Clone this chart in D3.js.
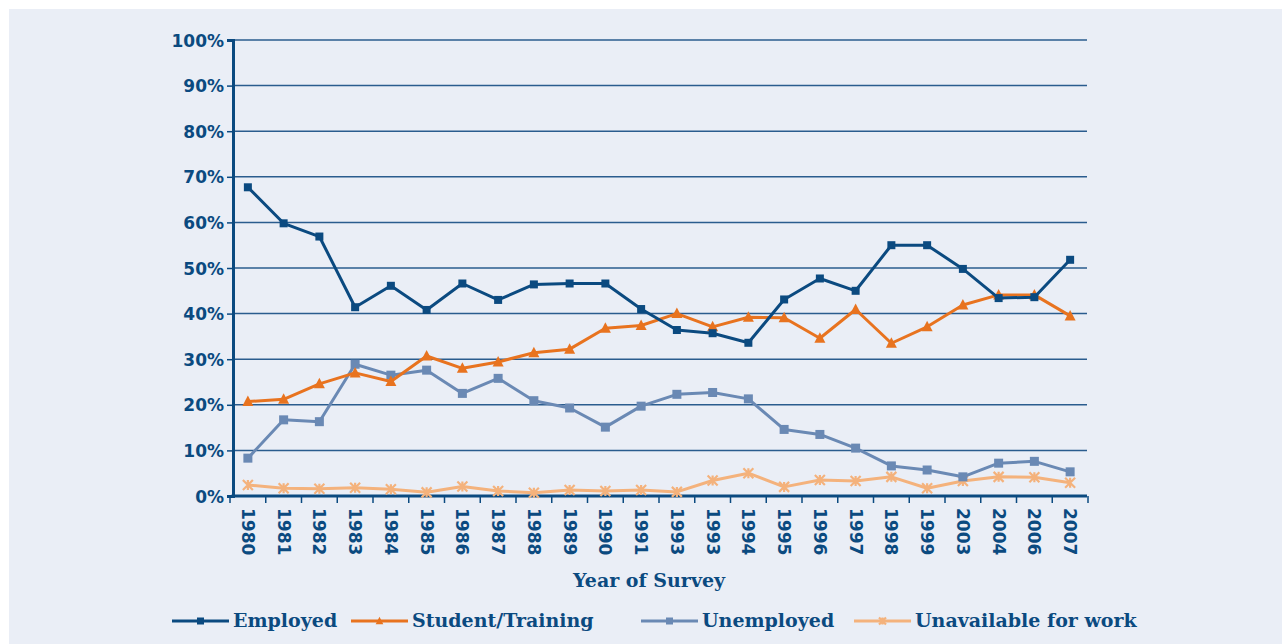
<!DOCTYPE html>
<html><head><meta charset="utf-8">
<script src="https://cdn.jsdelivr.net/npm/d3@7"></script>
<style>
html,body{margin:0;padding:0;background:#fff;}
svg{display:block;}
</style></head>
<body>
<script>
const categories = ["1980","1981","1982","1983","1984","1985","1986","1987","1988","1989","1990","1991","1993","1993","1994","1995","1996","1997","1998","1999","2003","2004","2006","2007"];
const employed =   [67.7,59.8,56.9,41.4,46.1,40.8,46.6,43.0,46.4,46.6,46.6,41.0,36.4,35.7,33.6,43.1,47.7,45.0,55.0,55.0,49.8,43.4,43.6,51.8];
const student =    [20.7,21.2,24.6,27.0,25.1,30.7,28.0,29.4,31.4,32.2,36.8,37.4,40.0,37.1,39.2,39.1,34.6,40.9,33.5,37.1,41.9,44.1,44.1,39.5];
const unemployed = [8.3,16.7,16.3,28.9,26.5,27.6,22.5,25.8,20.9,19.3,15.1,19.7,22.3,22.7,21.3,14.6,13.5,10.5,6.6,5.7,4.2,7.2,7.6,5.3];
const unavailable= [2.4,1.7,1.6,1.8,1.5,0.8,2.1,1.1,0.7,1.3,1.1,1.3,0.9,3.4,5.0,2.0,3.5,3.3,4.2,1.7,3.3,4.2,4.1,2.9];
const yTicks = [0,10,20,30,40,50,60,70,80,90,100];
const seriesNames = ["Employed","Student/Training","Unemployed","Unavailable for work"];
const seriesColors = ["#0b4a80","#e8731f","#6a89b4","#f4b27c"];
const seriesMarkers = ["square","triangle","square","cross"];

(function(){
const W=1282,H=644;
const textColor="#0b4a80";
const svg=d3.select("body").append("svg").attr("width",W).attr("height",H);
svg.append("rect").attr("width",W).attr("height",H).attr("fill","#ffffff");
svg.append("rect").attr("x",9).attr("y",9).attr("width",W-9).attr("height",H-9).attr("fill","#eaeef6");

const pL=233,pR=1087,pT=40,pB=496;
const y=d3.scaleLinear().domain([0,100]).range([pB,pT]);
const idx=d3.range(categories.length);
const x=d3.scaleBand().domain(idx).range([pL-3,pR+1]).paddingInner(0).paddingOuter(0);
const cx=i=>x(i)+x.bandwidth()/2;

// gridlines
svg.append("g").selectAll("line").data(yTicks.filter(d=>d>0)).join("line")
  .attr("x1",pL).attr("x2",pR).attr("y1",d=>y(d)).attr("y2",d=>y(d))
  .attr("stroke","#2a5c8e").attr("stroke-width",1.5);

// y axis
const yAxis=d3.axisLeft(y).tickValues(yTicks).tickFormat(d=>d+"%").tickSize(6).tickPadding(3);
const gy=svg.append("g").attr("transform",`translate(${pL},0)`).call(yAxis);
gy.select(".domain").attr("stroke",textColor).attr("stroke-width",3);
gy.selectAll(".tick line").attr("stroke",textColor).attr("stroke-width",1.5);
gy.selectAll("text").attr("fill",textColor).attr("font-family","DejaVu Sans").attr("font-weight","bold").attr("font-size","17px").attr("dy","0.36em");

// x axis
const gx=svg.append("g").attr("transform",`translate(0,${pB})`);
gx.append("line").attr("x1",pL-1.5).attr("x2",pR).attr("y1",0).attr("y2",0).attr("stroke",textColor).attr("stroke-width",3);
gx.selectAll("line.tk").data(d3.range(categories.length+1)).join("line").attr("class","tk")
  .attr("x1",i=>i<categories.length?x(i):x(categories.length-1)+x.bandwidth()).attr("x2",i=>i<categories.length?x(i):x(categories.length-1)+x.bandwidth())
  .attr("y1",0).attr("y2",7).attr("stroke",textColor).attr("stroke-width",1.5);
gx.selectAll("text").data(idx).join("text")
  .attr("transform",i=>`translate(${cx(i)-6},12) rotate(90)`)
  .attr("text-anchor","start").attr("fill",textColor)
  .attr("font-family","DejaVu Sans").attr("font-weight","bold").attr("font-size","17px")
  .text(i=>categories[i]);

svg.append("text").attr("x",649).attr("y",587).attr("text-anchor","middle")
  .attr("fill",textColor).attr("font-family","DejaVu Serif").attr("font-weight","bold").attr("font-size","19px")
  .text("Year of Survey");

function drawMarker(g,type,px,py,color,s){
  if(type==="square"){
    g.append("rect").attr("x",px-s/2).attr("y",py-s/2).attr("width",s).attr("height",s).attr("fill",color);
  } else if(type==="triangle"){
    const h=s*1.0;
    g.append("path").attr("d",`M${px},${py-h*0.6}L${px+s*0.55},${py+h*0.45}L${px-s*0.55},${py+h*0.45}Z`).attr("fill",color);
  } else {
    const r=s/2;
    g.append("path").attr("d",`M${px-r},${py-r}L${px+r},${py+r}M${px+r},${py-r}L${px-r},${py+r}M${px},${py-r}L${px},${py+r}`)
      .attr("stroke",color).attr("stroke-width",2.2).attr("fill","none");
  }
}

const allSeries=[employed,student,unemployed,unavailable];
const sizes=[8,10,9,10];
const order=[3,2,1,0];
const line=d3.line().x((d,i)=>cx(i)).y(d=>y(d));
order.forEach(k=>{
  const g=svg.append("g");
  g.append("path").datum(allSeries[k]).attr("d",line).attr("fill","none")
    .attr("stroke",seriesColors[k]).attr("stroke-width",3).attr("stroke-linejoin","round");
  allSeries[k].forEach((v,i)=>drawMarker(g,seriesMarkers[k],cx(i),y(v),seriesColors[k],sizes[k]));
});

// legend
const legX=[172,351,641,854];
const lg=svg.append("g");
seriesNames.forEach((n,k)=>{
  const lx=legX[k], ly=621;
  lg.append("line").attr("x1",lx).attr("x2",lx+57).attr("y1",ly).attr("y2",ly).attr("stroke",seriesColors[k]).attr("stroke-width",3);
  drawMarker(lg,seriesMarkers[k],lx+28.5,ly,seriesColors[k],7);
  lg.append("text").attr("x",lx+61).attr("y",ly+5.5).attr("fill",textColor)
    .attr("font-family","DejaVu Serif").attr("font-weight","bold").attr("font-size","19px").text(n);
});
})();
</script>
</body></html>
